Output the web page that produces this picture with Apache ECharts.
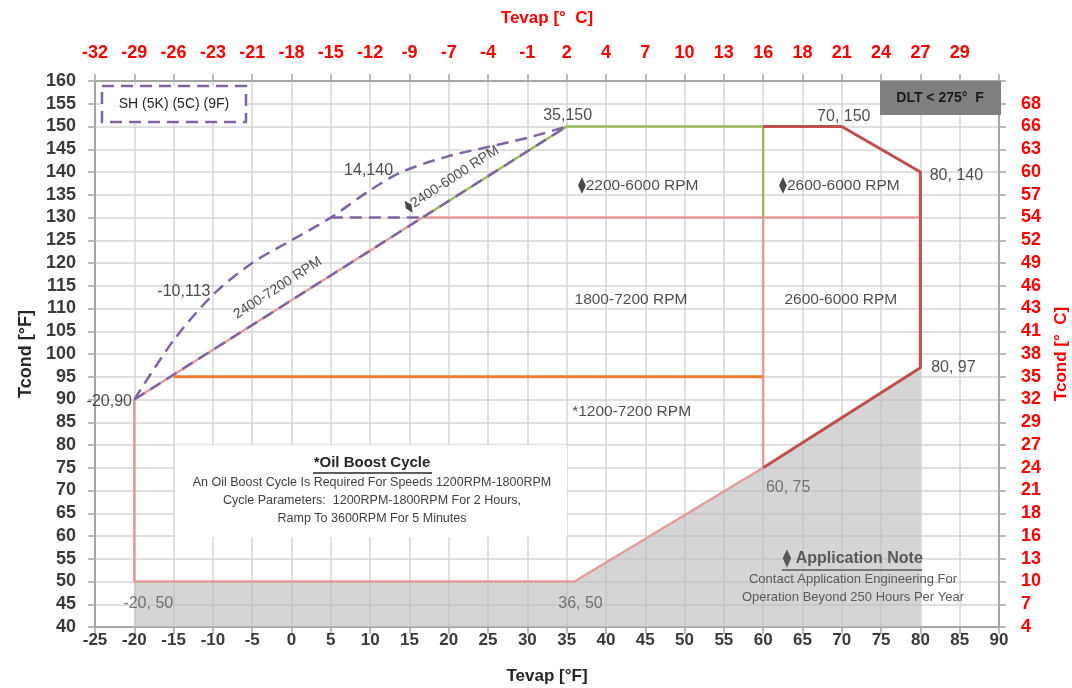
<!DOCTYPE html>
<html>
<head>
<meta charset="utf-8">
<script src="https://cdn.jsdelivr.net/npm/echarts@6/dist/echarts.min.js"></script>
<style>
  html, body { margin: 0; padding: 0; background: #fff; }
  #chart { width: 1072px; height: 688px; }
</style>
</head>
<body>
<div id="chart"></div>
<script>
// Envolvente de operación (Tevap °F, Tcond °F)
const shadedArea = [[-20, 50], [36, 50], [60, 75], [80, 97], [80, 40]];
const pinkOuter = [[-20, 90], [-20, 50], [36, 50], [60, 75]];
const pinkDiagonal = [[-20, 90], [16.67, 130]];
const pinkMidLine = [[16.67, 130], [80, 130]];
const pinkVertical = [[60, 75], [60, 130]];
const redEdge = [[60, 75], [80, 97], [80, 140], [70, 150], [60, 150]];
const greenEdge = [[16.67, 130], [35, 150], [60, 150], [60, 130]];
const orangeLine = [[-15, 95], [60, 95]];
const purpleDiagonal = [[-20, 90], [35, 150]];
const purpleCurve = [[-20, 90], [-15, 103], [-10, 113], [-5, 120], [0, 125], [5, 130],
  [10, 136], [14, 140], [20, 143.5], [25, 145.5], [30, 147.5], [35, 150]];
const purpleStep = [[5, 130], [16.67, 130]];

// Etiquetas de puntos
const pointCoords = [[-20, 90], [-10, 113], [14, 140], [35, 150], [70, 150],
  [80, 140], [80, 97], [60, 75], [-20, 50], [36, 50]];
const pointTexts = ["-20,90", "-10,113", "14,140", "35,150", "70, 150",
  "80, 140", "80, 97", "60, 75", "-20, 50", "36, 50"];

// Etiquetas de zonas
const zoneAnchors = [[36.4, 137], [62, 137], [36, 112], [62.7, 112], [35.7, 87.3]];
const zoneTexts = ["⧫2200-6000 RPM", "⧫2600-6000 RPM", "1800-7200 RPM", "2600-6000 RPM", "*1200-7200 RPM"];
const slopeAnchors = [[-1.75, 114.5], [20.4, 138.5]];
const slopeTexts = ["2400-7200 RPM", "⧫2400-6000 RPM"];

// Ejes
const xMin = -25, xMax = 90, yMin = 40, yMax = 160, step = 5;
const toC = (f) => Math.round((f - 32) / 1.8);

// Desplazamientos de etiquetas (px)
const pointOffsets = [[-25, 2], [-29, -3], [-33, -1], [1, -11], [2, -10],
  [36, 4], [33, 0], [25, 20], [14, 22], [6, 22]];

const FONT = "'Liberation Sans', Arial, sans-serif";
const GRID_LINE = { color: "#d6d6d6", width: 1.5 };
const AXIS_LINE = { show: true, onZero: false, lineStyle: { color: "#a6a6a6", width: 2 } };
const AXIS_TICK = { show: true, length: 7, lineStyle: { color: "#a6a6a6", width: 1.5 } };

function lineSeries(data, color, width, dashed, z) {
  return {
    type: "line",
    data: data,
    symbol: "none",
    silent: true,
    z: z || 3,
    lineStyle: { color: color, width: width, type: dashed ? [12, 7] : "solid", cap: "butt" },
  };
}

const chart = echarts.init(document.getElementById("chart"));

const option = {
  animation: false,
  textStyle: { fontFamily: FONT },
  grid: { left: 95, right: 73, top: 81, bottom: 61, containLabel: false, outerBoundsMode: "none" },
  xAxis: [
    {
      type: "value", min: xMin, max: xMax, interval: step, position: "bottom",
      name: "Tevap [°F]", nameLocation: "middle", nameGap: 41,
      nameTextStyle: { fontSize: 17, fontWeight: "bold", color: "#262626" },
      axisLine: AXIS_LINE,
      axisTick: AXIS_TICK,
      axisLabel: { fontSize: 17, fontWeight: "bold", color: "#3a3a3a", margin: 5 },
      splitLine: { show: true, lineStyle: GRID_LINE },
    },
    {
      type: "value", min: xMin, max: xMax, interval: step, position: "top",
      name: "Tevap [°  C]", nameLocation: "middle", nameGap: 54,
      nameTextStyle: { fontSize: 17, fontWeight: "bold", color: "#ff0000" },
      axisLine: AXIS_LINE,
      axisTick: AXIS_TICK,
      axisLabel: {
        fontSize: 18, fontWeight: "bold", color: "#ff0000", margin: 19,
        formatter: (v) => (v >= xMax ? "" : String(toC(v))),
      },
      splitLine: { show: false },
    },
  ],
  yAxis: [
    {
      type: "value", min: yMin, max: yMax, interval: step, position: "left",
      name: "Tcond [°F]", nameLocation: "middle", nameGap: 60, nameRotate: 90,
      nameTextStyle: { fontSize: 18, fontWeight: "bold", color: "#262626" },
      axisLine: AXIS_LINE,
      axisTick: AXIS_TICK,
      axisLabel: { fontSize: 18, fontWeight: "bold", color: "#3a3a3a", margin: 19 },
      splitLine: { show: true, lineStyle: GRID_LINE },
    },
    {
      type: "value", min: yMin, max: yMax, interval: step, position: "right",
      name: "Tcond [°  C]", nameLocation: "middle", nameGap: 54, nameRotate: 90,
      nameTextStyle: { fontSize: 17, fontWeight: "bold", color: "#ff0000" },
      axisLine: AXIS_LINE,
      axisTick: AXIS_TICK,
      axisLabel: {
        fontSize: 18, fontWeight: "bold", color: "#ff0000", margin: 22,
        formatter: (v) => (v >= yMax ? "" : String(toC(v))),
      },
      splitLine: { show: false },
    },
  ],
  series: [
    {
      type: "line",
      data: shadedArea,
      symbol: "none",
      silent: true,
      z: 1,
      lineStyle: { width: 0 },
      areaStyle: { color: "#bcbcbc", opacity: 0.62, origin: "start" },
    },
    lineSeries(pinkOuter, "#e39c9b", 2.5),
    lineSeries(pinkDiagonal, "#e39c9b", 2.5),
    lineSeries(pinkMidLine, "#e39c9b", 2.5),
    lineSeries(pinkVertical, "#e39c9b", 2.5),
    lineSeries(orangeLine, "#ed7d31", 3),
    lineSeries(greenEdge, "#9bbb59", 2.5),
    lineSeries(redEdge, "#c0504d", 3),
    lineSeries(purpleDiagonal, "#8064a2", 2.5, true, 5),
    Object.assign(lineSeries(purpleCurve, "#8064a2", 2.5, true, 5), { smooth: 0.3 }),
    lineSeries(purpleStep, "#8064a2", 2.5, true, 5),
    {
      type: "scatter",
      symbolSize: 0,
      silent: true,
      z: 6,
      data: pointCoords.map((c, i) => ({
        value: c,
        label: {
          show: true,
          position: "inside",
          formatter: pointTexts[i],
          offset: pointOffsets[i],
          fontSize: 16,
          color: i >= 7 ? "#595959" : "#222",
        },
      })),
    },
    {
      type: "scatter",
      symbolSize: 0,
      silent: true,
      z: 6,
      data: zoneAnchors.map((c, i) => ({
        value: c,
        label: {
          show: true,
          position: "inside",
          align: "left",
          formatter: zoneTexts[i],
          fontSize: 15.5,
          color: "#1e1e1e",
        },
      })),
    },
    {
      type: "scatter",
      symbolSize: 0,
      silent: true,
      z: 6,
      data: slopeAnchors.map((c, i) => ({
        value: c,
        label: {
          show: true,
          position: "inside",
          formatter: slopeTexts[i],
          rotate: 33,
          fontSize: 14,
          color: "#1e1e1e",
        },
      })),
    },
  ],
  graphic: [
    // caja SH
    {
      type: "rect", z: 10,
      shape: { x: 102, y: 86, width: 144, height: 36 },
      style: { fill: "#fff", stroke: "#8064a2", lineWidth: 2.5, lineDash: [12, 7] },
    },
    {
      type: "text", z: 11, x: 174, y: 104,
      style: { text: "SH (5K) (5C) (9F)", fontSize: 14, fontFamily: FONT, fill: "#262626", align: "center", verticalAlign: "middle" },
    },
    // caja DLT
    {
      type: "rect", z: 10,
      shape: { x: 880, y: 81, width: 121, height: 34 },
      style: { fill: "#7f7f7f" },
    },
    {
      type: "text", z: 11, x: 940, y: 98,
      style: { text: "DLT < 275°  F", fontSize: 14, fontWeight: "bold", fontFamily: FONT, fill: "#1a1a1a", align: "center", verticalAlign: "middle" },
    },
    // caja Oil Boost
    {
      type: "rect", z: 10,
      shape: { x: 175, y: 445, width: 392, height: 92 },
      style: { fill: "#fff" },
    },
    {
      type: "text", z: 11, x: 372, y: 463,
      style: { text: "*Oil Boost Cycle", fontSize: 15, fontWeight: "bold", fontFamily: FONT, fill: "#262626", align: "center", verticalAlign: "middle" },
    },
    {
      type: "line", z: 11,
      shape: { x1: 313, y1: 473, x2: 432, y2: 473 },
      style: { stroke: "#262626", lineWidth: 1.3 },
    },
    {
      type: "text", z: 11, x: 372, y: 501,
      style: {
        text: "An Oil Boost Cycle Is Required For Speeds 1200RPM-1800RPM\nCycle Parameters:  1200RPM-1800RPM For 2 Hours,\nRamp To 3600RPM For 5 Minutes",
        fontSize: 12.5, lineHeight: 18, fontFamily: FONT, fill: "#404040", align: "center", verticalAlign: "middle",
      },
    },
    // nota de aplicación
    {
      type: "text", z: 11, x: 853, y: 559,
      style: { text: "⧫ Application Note", fontSize: 16, fontWeight: "bold", fontFamily: FONT, fill: "#595959", align: "center", verticalAlign: "middle" },
    },
    {
      type: "line", z: 11,
      shape: { x1: 782, y1: 570, x2: 922, y2: 570 },
      style: { stroke: "#595959", lineWidth: 1.3 },
    },
    {
      type: "text", z: 11, x: 853, y: 588,
      style: {
        text: "Contact Application Engineering For\nOperation Beyond 250 Hours Per Year",
        fontSize: 13, lineHeight: 18, fontFamily: FONT, fill: "#595959", align: "center", verticalAlign: "middle",
      },
    },
  ],
};

chart.setOption(option);
</script>
</body>
</html>
